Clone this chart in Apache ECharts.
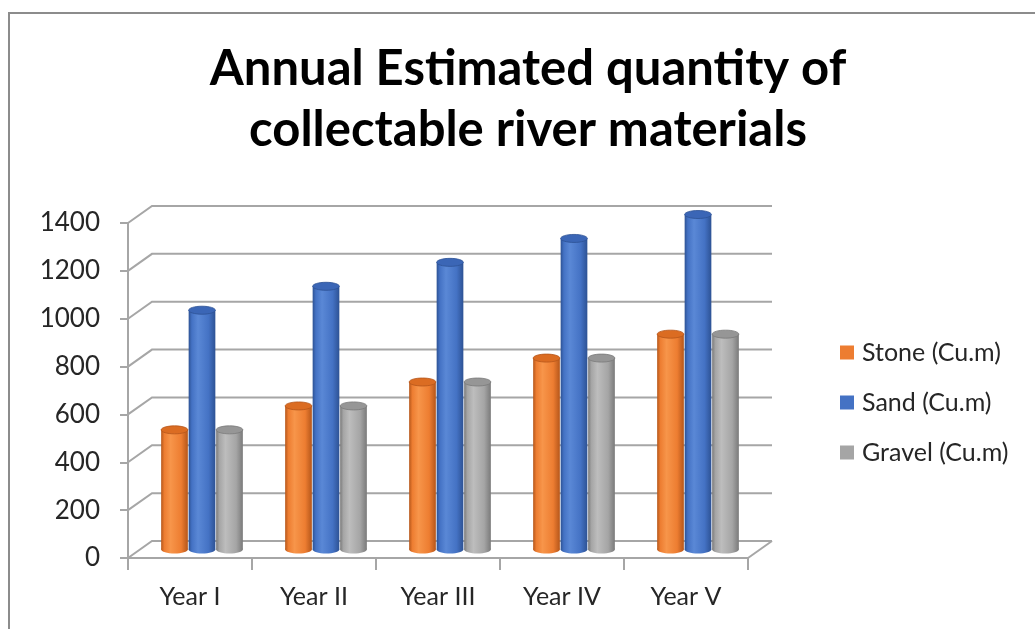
<!DOCTYPE html>
<html>
<head>
<meta charset="utf-8">
<script src="https://cdn.jsdelivr.net/npm/echarts@6/dist/echarts.min.js"></script>
<style>
  html, body { margin: 0; padding: 0; background: #ffffff; }
  #chart { width: 1035px; height: 629px; }
</style>
</head>
<body>
<div id="chart"></div>
<script>
// Annual quantities (cubic metres) per material
const categories = ['Year I', 'Year II', 'Year III', 'Year IV', 'Year V'];
const stone  = [500, 600, 700, 800, 900];
const sand   = [1000, 1100, 1200, 1300, 1400];
const gravel = [500, 600, 700, 800, 900];
const yTicks = [0, 200, 400, 600, 800, 1000, 1200, 1400];
const seriesNames = ['Stone (Cu.m)', 'Sand (Cu.m)', 'Gravel (Cu.m)'];

// Pseudo-3D depth of the plot box (px) and cylinder size
const DEPTH_X = 24, DEPTH_Y = 17;
const BAR_W = 27.5, CAP_RY = 4;
const GRID_COLOR = '#A6A6A6';
const FONT = 'Lato, "Open Sans", sans-serif';

const palette = [
  { base: '#ED7D31', light: '#F7954A', dark: '#B5561A', top: '#DB6C22' },
  { base: '#4472C4', light: '#5A88D6', dark: '#2D5294', top: '#3B66B6' },
  { base: '#A5A5A5', light: '#BDBDBD', dark: '#7A7A7A', top: '#969696' }
];

function cylinder(slot) {
  const c = palette[slot];
  return function (params, api) {
    const idx = api.value(0);
    const v = api.value(1);
    const base = api.coord([idx, 0]);
    const top = api.coord([idx, v]);
    const cx = base[0] + DEPTH_X / 2 + (slot - 1) * BAR_W;
    const shiftY = -DEPTH_Y / 2;
    const rx = BAR_W / 2 - 0.4;
    const yb = base[1] + shiftY;
    const yt = top[1] + shiftY;
    const grad = new echarts.graphic.LinearGradient(0, 0, 1, 0, [
      { offset: 0, color: c.dark },
      { offset: 0.12, color: c.base },
      { offset: 0.35, color: c.light },
      { offset: 0.75, color: c.base },
      { offset: 1, color: c.dark }
    ]);
    return {
      type: 'group',
      children: [
        { type: 'ellipse', shape: { cx: cx, cy: yb, rx: rx, ry: CAP_RY }, style: { fill: grad } },
        { type: 'rect', shape: { x: cx - rx, y: yt, width: 2 * rx, height: yb - yt }, style: { fill: grad } },
        { type: 'ellipse', shape: { cx: cx, cy: yt, rx: rx, ry: CAP_RY },
          style: { fill: c.top, stroke: c.dark, lineWidth: 0.8 } }
      ]
    };
  };
}

function makeCylSeries(name, values, slot) {
  return {
    name: name,
    type: 'custom',
    z: 5,
    clip: false,
    itemStyle: { color: palette[slot].base },
    data: values.map((v, i) => [i, v]),
    renderItem: cylinder(slot)
  };
}

const chart = echarts.init(document.getElementById('chart'), null, { renderer: 'canvas' });

chart.setOption({
  animation: false,
  backgroundColor: '#ffffff',
  title: {
    text: 'Annual Estimated quantity of\ncollectable river materials',
    left: 528,
    textAlign: 'center',
    top: 39,
    padding: 0,
    textStyle: {
      fontFamily: FONT,
      fontWeight: 'bold',
      fontSize: 49,
      lineHeight: 61,
      color: '#000000'
    }
  },
  legend: {
    data: seriesNames,
    orient: 'vertical',
    left: 835,
    top: 335,
    icon: 'rect',
    itemWidth: 14,
    itemHeight: 14,
    itemGap: 25,
    textStyle: {
      fontFamily: FONT,
      fontSize: 25,
      color: '#262626',
      padding: [0, 0, 0, 3]
    }
  },
  graphic: [
    {
      type: 'polyline',
      silent: true,
      shape: { points: [[9, 640], [9, 13], [1040, 13]] },
      style: { stroke: '#8C8C8C', lineWidth: 2, fill: null }
    }
  ],
  grid: {
    left: 128,
    right: 287,
    top: 223,
    bottom: 71,
    containLabel: false
  },
  xAxis: {
    type: 'category',
    data: categories,
    boundaryGap: true,
    axisLine: { show: true, lineStyle: { color: GRID_COLOR, width: 2 } },
    axisTick: { show: true, length: 12, lineStyle: { color: GRID_COLOR, width: 2 } },
    axisLabel: {
      margin: 26,
      fontFamily: FONT,
      fontSize: 25,
      color: '#262626'
    },
    splitLine: { show: false }
  },
  yAxis: {
    type: 'value',
    min: 0,
    max: 1400,
    interval: 200,
    axisLine: { show: true, lineStyle: { color: GRID_COLOR, width: 2 } },
    axisTick: { show: true, length: 8, lineStyle: { color: GRID_COLOR, width: 2 } },
    axisLabel: {
      margin: 28,
      fontFamily: FONT,
      fontSize: 26,
      color: '#262626',
      formatter: v => String(v)
    },
    splitLine: { show: false }
  },
  series: [
    {
      // back wall gridlines with their slanted links to the front axis
      name: 'walls',
      type: 'custom',
      silent: true,
      clip: false,
      z: 1,
      data: yTicks.map(v => [0, v]),
      renderItem: function (params, api) {
        const cs = params.coordSys;
        const v = api.value(1);
        const y = api.coord([0, v])[1];
        const x0 = cs.x, x1 = cs.x + cs.width;
        const children = [{
          type: 'polyline',
          shape: { points: [[x0, y], [x0 + DEPTH_X, y - DEPTH_Y], [x1 + DEPTH_X, y - DEPTH_Y]] },
          style: { stroke: GRID_COLOR, lineWidth: 2, fill: null }
        }];
        if (v === 0) {
          children.push({
            type: 'line',
            shape: { x1: x1, y1: y, x2: x1 + DEPTH_X, y2: y - DEPTH_Y },
            style: { stroke: GRID_COLOR, lineWidth: 2 }
          });
        }
        return { type: 'group', children: children };
      }
    },
    makeCylSeries(seriesNames[0], stone, 0),
    makeCylSeries(seriesNames[1], sand, 1),
    makeCylSeries(seriesNames[2], gravel, 2)
  ]
});
</script>
</body>
</html>
